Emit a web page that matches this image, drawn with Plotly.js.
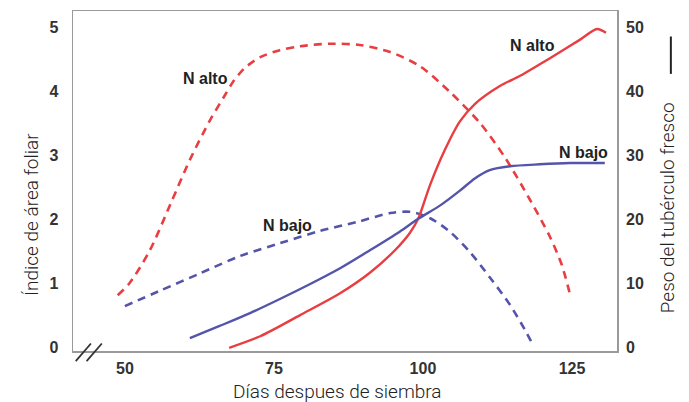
<!DOCTYPE html>
<html>
<head>
<meta charset="utf-8">
<script src="https://cdn.plot.ly/plotly-3.0.1.min.js"></script>
<style>html,body{margin:0;padding:0;background:#fff;}#chart{width:689px;height:402px;}</style>
</head>
<body>
<div id="chart"></div>
<script>
// Leaf area index, high N (dashed red, left axis)
const daysLaiAlto = [48.8, 50.8, 54.2, 57.6, 60.9, 64.3, 66.8, 68.1, 70.1, 72.7, 76.0, 79.4, 84.4, 89.4, 94.5, 99.5, 104.5, 109.6, 113.8, 118.0, 121.3, 123.3, 124.7];
const laiAlto = [0.82, 1.01, 1.52, 2.23, 2.93, 3.55, 3.94, 4.14, 4.36, 4.53, 4.64, 4.70, 4.74, 4.72, 4.61, 4.39, 3.99, 3.50, 2.96, 2.30, 1.73, 1.29, 0.82];
// Leaf area index, low N (dashed blue, left axis)
const daysLaiBajo = [50.0, 55.9, 62.6, 69.3, 76.0, 82.7, 88.9, 94.5, 97.8, 101.2, 104.5, 107.9, 111.2, 114.6, 117.1, 118.5];
const laiBajo = [0.65, 0.89, 1.16, 1.43, 1.63, 1.82, 1.96, 2.10, 2.12, 2.02, 1.81, 1.49, 1.10, 0.67, 0.28, 0.04];
// Fresh tuber weight, high N (solid red, right axis)
const daysTuberAlto = [67.5, 72.7, 79.4, 86.1, 91.1, 95.3, 97.8, 99.2, 101.2, 103.7, 106.2, 108.7, 112.9, 116.3, 119.6, 123.0, 126.3, 129.2, 130.7];
const tuberAlto = [0, 1.8, 5.1, 8.5, 11.7, 15.2, 17.9, 20.1, 25.4, 30.9, 35.3, 38.0, 40.8, 42.4, 44.2, 46.1, 48.0, 49.7, 49.1];
// Fresh tuber weight, low N (solid blue, right axis)
const daysTuberBajo = [60.9, 65.9, 71.0, 76.0, 81.0, 86.1, 91.1, 96.1, 99.2, 102.9, 106.2, 108.7, 111.2, 114.6, 119.6, 124.7, 130.5];
const tuberBajo = [1.5, 3.4, 5.4, 7.6, 9.9, 12.4, 15.2, 18.1, 20.1, 22.2, 24.5, 26.4, 27.7, 28.3, 28.6, 28.8, 28.8];

const xTicks = [50, 75, 100, 125];
const yTicks = [0, 1, 2, 3, 4, 5];
const y2Ticks = [0, 10, 20, 30, 40, 50];

const xTitle = 'Días despues de siembra';
const yTitle = 'Índice de área foliar';
const y2Title = 'Peso del tubérculo fresco';

const RED = 'rgb(232,62,66)';
const BLUE = 'rgb(84,84,170)';
const narrow = 'Roboto, "Liberation Sans", sans-serif';
const bold = '"Liberation Sans", Arial, sans-serif';

const traces = [
  {x: daysLaiAlto, y: laiAlto, mode: 'lines', line: {color: RED, width: 2.6, dash: '8px,6px', shape: 'spline', smoothing: 0.8}, yaxis: 'y'},
  {x: daysLaiBajo, y: laiBajo, mode: 'lines', line: {color: BLUE, width: 2.6, dash: '8px,6px', shape: 'spline', smoothing: 0.8}, yaxis: 'y'},
  {x: daysTuberAlto, y: tuberAlto, mode: 'lines', line: {color: RED, width: 2.4, shape: 'spline', smoothing: 0.8}, yaxis: 'y2'},
  {x: daysTuberBajo, y: tuberBajo, mode: 'lines', line: {color: BLUE, width: 2.4, shape: 'spline', smoothing: 0.8}, yaxis: 'y2'}
];

const ann = (x, y, yref, text) => ({x, y, xref: 'x', yref, text, showarrow: false, font: {family: bold, size: 16, color: '#222', weight: 'bold'}});
const titleFont = {family: narrow, size: 19, color: '#222', weight: 300};
const titleAnn = (x, y, text, angle) => ({xref: 'paper', yref: 'paper', x, y, xanchor: 'center', yanchor: 'middle', text, textangle: angle, showarrow: false, font: titleFont});

const layout = {
  width: 689, height: 402,
  margin: {l: 73, r: 72, t: 11, b: 51},
  paper_bgcolor: '#fff', plot_bgcolor: '#fff',
  showlegend: false,
  xaxis: {
    range: [41.3, 132.55], tickvals: xTicks, ticktext: xTicks.map(String),
    showgrid: false, zeroline: false, showline: true, mirror: true, linecolor: '#9a9a9a', linewidth: 1.5,
    ticks: '', ticklabelstandoff: 2,
    tickfont: {family: bold, size: 16, color: '#333', weight: 'bold'}
  },
  yaxis: {
    range: [-0.05, 5.25], tickvals: yTicks, ticktext: yTicks.map(String),
    showgrid: false, zeroline: false, showline: true, mirror: true, linecolor: '#9a9a9a', linewidth: 1.5,
    ticks: '', ticklabelstandoff: 10,
    tickfont: {family: bold, size: 16, color: '#333', weight: 'bold'}
  },
  yaxis2: {
    range: [-0.5, 52.5], tickvals: y2Ticks, ticktext: y2Ticks.map(String),
    overlaying: 'y', side: 'right', showgrid: false, zeroline: false, showline: false,
    ticks: '', ticklabelstandoff: 8,
    tickfont: {family: bold, size: 16, color: '#333', weight: 'bold'}
  },
  annotations: [
    ann(63.5, 4.2, 'y', 'N alto'),
    ann(77.2, 1.9, 'y', 'N bajo'),
    ann(118.3, 47.2, 'y2', 'N alto'),
    ann(127, 30.4, 'y2', 'N bajo'),
    titleAnn(0.487, -0.118, xTitle, 0),
    titleAnn(-0.077, 0.40, yTitle, -90),
    titleAnn(1.092, 0.42, y2Title, -90)
  ],
  shapes: [
    {type: 'line', xref: 'paper', yref: 'paper', x0: 0.005, y0: -0.03, x1: 0.033, y1: 0.022, line: {color: '#333', width: 1.8}},
    {type: 'line', xref: 'paper', yref: 'paper', x0: 0.025, y0: -0.03, x1: 0.053, y1: 0.022, line: {color: '#333', width: 1.8}},
    {type: 'line', xref: 'paper', yref: 'paper', x0: 1.099, y0: 0.925, x1: 1.099, y1: 0.815, line: {color: '#222', width: 2}}
  ]
};

Plotly.newPlot('chart', traces, layout, {displayModeBar: false, staticPlot: true});
</script>
</body>
</html>
